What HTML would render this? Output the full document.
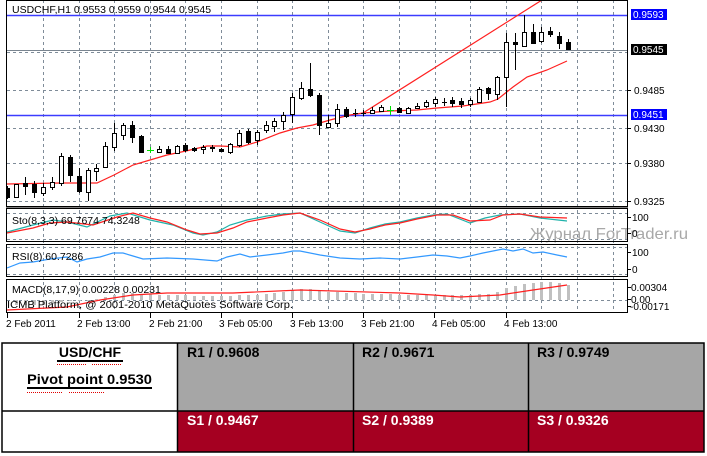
<!DOCTYPE html>
<html><head><meta charset="utf-8"><style>
html,body{margin:0;padding:0;background:#fff;}
svg{display:block;font-family:"Liberation Sans",Arial,sans-serif;}
</style></head><body>
<svg width="707" height="456" viewBox="0 0 707 456" xmlns="http://www.w3.org/2000/svg">
<defs>
<clipPath id="cm"><rect x="7" y="1" width="620" height="205"/></clipPath>
<clipPath id="cs"><rect x="7" y="209" width="620" height="32"/></clipPath>
<clipPath id="cr"><rect x="7" y="245" width="620" height="31"/></clipPath>
<clipPath id="cd"><rect x="7" y="280" width="620" height="32"/></clipPath>
</defs>
<rect width="707" height="456" fill="#fff"/>

<!-- grid verticals -->
<path d="M43.5 0V313M79.5 0V313M114.5 0V313M150.5 0V313M185.5 0V313M221.5 0V313M257.5 0V313M292.5 0V313M328.5 0V313M363.5 0V313M399.5 0V313M435.5 0V313M470.5 0V313M506.5 0V313M541.5 0V313M577.5 0V313M613.5 0V313" stroke="#7f8c99" stroke-dasharray="3,3" fill="none"/>
<!-- grid horizontals main -->
<path d="M7 15.5H627M7 52.5H627M7 90.5H627M7 128.5H627M7 163.5H627M7 201.5H627" stroke="#7f8c99" stroke-dasharray="3,3" fill="none"/>
<!-- indicator levels -->
<path d="M7 213.5H627M7 239.5H627M7 247.5H627M7 274.5H627M7 300.5H627" stroke="#7f8c99" stroke-dasharray="3,3" fill="none"/>

<!-- main chart -->
<g clip-path="url(#cm)">
<line x1="7" y1="15.5" x2="627" y2="15.5" stroke="#3c3cff" stroke-width="1.5"/>
<line x1="7" y1="115.5" x2="627" y2="115.5" stroke="#3c3cff" stroke-width="1.5"/>
<line x1="7" y1="50.5" x2="627" y2="50.5" stroke="#7a8590"/>
<polyline fill="none" stroke="#ff2020" stroke-width="1.2" points="6,184 60,183 97,183 114,175 133,165 150,160 167,155 186,151 207,146 220,146 240,147 257,142 280,133 297,128 313,125 330,120 350,115 363,113 390,111 417,110 437,108 463,106 490,102 498,99 513,87 527,77 547,70 567,61"/>
<line x1="363" y1="113" x2="542" y2="0" stroke="#ff2020" stroke-width="1.2"/>
<path fill="none" stroke="#000" d="M7.5 186V199M16.5 184V198M25.5 177V195M34.5 181V198M43.5 183V196M52.5 177V190M61.5 153V186M70.5 155V182M79.5 168V193M88.5 168V201M96.5 164V181M105.5 142V168M114.5 123V151M123.5 123V140M132.5 121V143M141.5 135V153M159.5 146V152M168.5 146V153M177.5 145V153M185.5 143V152M194.5 147V152M203.5 145V154M212.5 145V152M221.5 148V152M230.5 143V154M239.5 130V147M248.5 129V144M257.5 130V145M266.5 121V133M274.5 118V132M283.5 112V130M292.5 93V123M301.5 82V100M310.5 63V97M319.5 93V135M328.5 115V127M337.5 104V127M346.5 107V118M355.5 109V117M363.5 110V116M372.5 107V114M381.5 105V112M399.5 107V113M408.5 107V114M417.5 103V109M426.5 100V108M435.5 97V107M444.5 98V106M452.5 97V107M461.5 98V108M470.5 98V107M479.5 87V103M488.5 87V100M497.5 76V100M506.5 33V107M515.5 33V70M524.5 15V47M533.5 24V44M541.5 27V43M550.5 27V37M559.5 32V49M568.5 39V50M353 113.5H358M361 113.5H366M442 102.5H447"/>
<g fill="#fff" stroke="#000">
<rect x="14.5" y="184.5" width="4" height="13"/><rect x="41.5" y="187.5" width="4" height="6"/><rect x="50.5" y="182.5" width="4" height="5"/><rect x="59.5" y="156.5" width="4" height="27"/><rect x="86.5" y="170.5" width="4" height="22"/><rect x="94.5" y="168.5" width="4" height="3"/><rect x="103.5" y="146.5" width="4" height="21"/><rect x="112.5" y="133.5" width="4" height="14"/><rect x="121.5" y="125.5" width="4" height="10"/><rect x="157.5" y="149.5" width="4" height="3"/><rect x="175.5" y="146.5" width="4" height="7"/><rect x="201.5" y="147.5" width="4" height="2"/><rect x="228.5" y="144.5" width="4" height="8"/><rect x="237.5" y="133.5" width="4" height="12"/><rect x="255.5" y="132.5" width="4" height="8"/><rect x="264.5" y="125.5" width="4" height="5"/><rect x="272.5" y="121.5" width="4" height="5"/><rect x="281.5" y="115.5" width="4" height="6"/><rect x="290.5" y="97.5" width="4" height="17"/><rect x="299.5" y="88.5" width="4" height="10"/><rect x="326.5" y="123.5" width="4" height="4"/><rect x="335.5" y="109.5" width="4" height="14"/><rect x="370.5" y="110.5" width="4" height="3"/><rect x="379.5" y="107.5" width="4" height="4"/><rect x="406.5" y="108.5" width="4" height="5"/><rect x="415.5" y="106.5" width="4" height="2"/><rect x="424.5" y="102.5" width="4" height="4"/><rect x="433.5" y="99.5" width="4" height="4"/><rect x="468.5" y="100.5" width="4" height="4"/><rect x="477.5" y="89.5" width="4" height="13"/><rect x="495.5" y="77.5" width="4" height="17"/><rect x="504.5" y="42.5" width="4" height="35"/><rect x="522.5" y="32.5" width="4" height="14"/><rect x="539.5" y="32.5" width="4" height="9"/>
</g>
<g fill="#000">
<rect x="5" y="188" width="5" height="10"/><rect x="23" y="183" width="5" height="4"/><rect x="32" y="184" width="5" height="9"/><rect x="68" y="157" width="5" height="19"/><rect x="77" y="176" width="5" height="16"/><rect x="130" y="125" width="5" height="13"/><rect x="139" y="136" width="5" height="17"/><rect x="166" y="149" width="5" height="5"/><rect x="183" y="145" width="5" height="6"/><rect x="192" y="148" width="5" height="3"/><rect x="210" y="147" width="5" height="2"/><rect x="219" y="149" width="5" height="3"/><rect x="246" y="131" width="5" height="12"/><rect x="308" y="89" width="5" height="7"/><rect x="317" y="95" width="5" height="31"/><rect x="344" y="109" width="5" height="8"/><rect x="397" y="108" width="5" height="5"/><rect x="450" y="100" width="5" height="4"/><rect x="459" y="101" width="5" height="4"/><rect x="486" y="88" width="5" height="6"/><rect x="513" y="42" width="5" height="3"/><rect x="531" y="32" width="5" height="12"/><rect x="548" y="31" width="5" height="4"/><rect x="557" y="36" width="5" height="8"/><rect x="566" y="42" width="5" height="8"/>
</g>
<path fill="none" stroke="#00e000" d="M150.5 147V153M147 150.5H154M390.5 106V115M387 110.5H394"/>
</g>
<text x="12" y="13" font-size="10.5" fill="#000">USDCHF,H1  0.9553 0.9559 0.9544 0.9545</text>

<!-- stochastic -->
<g clip-path="url(#cs)" fill="none" stroke-width="1.2">
<polyline stroke="#20b2aa" points="7,232 33,225 53,220 67,222 87,227 110,216 127,213 150,220 173,225 193,233 203,235 217,232 230,225 247,220 267,216 283,214 300,213 320,222 340,231 355,233 370,228 385,224 400,222 417,218 433,215 447,214 470,223 485,218 500,215 520,214 540,218 567,221"/>
<polyline stroke="#ff2020" points="7,233 33,228 50,223 67,222 93,225 117,217 133,213 150,218 167,222 187,230 200,234 217,233 233,228 247,222 267,218 283,215 300,213 320,220 340,229 355,232 370,229 385,225 400,223 417,219 437,215 453,215 470,221 490,220 503,215 520,214 540,217 567,218"/>
</g>
<text x="12" y="224" font-size="10.5" fill="#000">Sto(8,3,3) 69.7674 74.3248</text>

<!-- RSI -->
<g clip-path="url(#cr)" fill="none">
<polyline stroke="#3399ff" stroke-width="1.2" points="7,268 20,263 33,262 50,259 67,257 77,262 87,259 100,257 113,253 123,253 133,256 143,259 167,258 193,259 217,261 227,257 240,254 250,257 267,255 283,253 293,251 300,251 320,255 340,258 360,259 380,258 400,259 417,257 433,255 447,256 460,258 470,256 483,253 503,249 513,251 523,249 533,253 543,252 557,255 567,257"/>
</g>
<text x="12" y="260" font-size="10.5" fill="#000">RSI(8) 60.7286</text>

<!-- MACD -->
<g clip-path="url(#cd)">
<path fill="#c0c0c0" d="M15 300h3V305h-3zM24 300h3V305h-3zM33 300h3V305h-3zM42 300h3V305h-3zM51 300h3V304h-3zM60 300h3V302h-3zM69 300h3V301h-3zM78 300h3V301h-3zM87 300h3V301h-3zM95 299h3V300h-3zM104 297h3V300h-3zM113 295h3V300h-3zM122 293h3V300h-3zM131 293h3V300h-3zM140 294h3V300h-3zM149 294h3V300h-3zM158 295h3V300h-3zM167 295h3V300h-3zM176 295h3V300h-3zM184 295h3V300h-3zM193 296h3V300h-3zM202 296h3V300h-3zM211 296h3V300h-3zM220 296h3V300h-3zM229 296h3V300h-3zM238 295h3V300h-3zM247 295h3V300h-3zM256 295h3V300h-3zM265 294h3V300h-3zM273 293h3V300h-3zM282 292h3V300h-3zM291 290h3V300h-3zM300 289h3V300h-3zM309 289h3V300h-3zM318 291h3V300h-3zM327 292h3V300h-3zM336 292h3V300h-3zM345 293h3V300h-3zM354 293h3V300h-3zM362 294h3V300h-3zM371 294h3V300h-3zM380 294h3V300h-3zM389 294h3V300h-3zM398 295h3V300h-3zM407 295h3V300h-3zM416 295h3V300h-3zM425 295h3V300h-3zM434 295h3V300h-3zM443 295h3V300h-3zM451 295h3V300h-3zM460 295h3V300h-3zM469 295h3V300h-3zM478 294h3V300h-3zM487 294h3V300h-3zM496 292h3V300h-3zM505 288h3V300h-3zM514 286h3V300h-3zM523 284h3V300h-3zM532 283h3V300h-3zM540 282h3V300h-3zM549 282h3V300h-3zM558 283h3V300h-3zM567 285h3V300h-3z"/>
<polyline fill="none" stroke="#ff2020" stroke-width="1.2" points="7,310 67,307 100,300 133,295 167,293 233,293 300,290 400,293 433,295 460,297 500,295 533,290 567,285"/>
</g>
<text x="12" y="293" font-size="10.5" fill="#000">MACD(8,17,9) 0.00228 0.00231</text>
<text x="7" y="308" font-size="10.5" fill="#000" textLength="286" lengthAdjust="spacingAndGlyphs">ICMB Platform, @ 2001-2010 MetaQuotes Software Corp.</text>

<!-- watermark -->
<text x="530" y="239" font-size="16" fill="#a8a8a8" textLength="158" lengthAdjust="spacingAndGlyphs">Журнал ForTrader.ru</text>

<!-- frames -->
<g fill="none" stroke="#000">
<rect x="6.5" y="0.5" width="621" height="206"/>
<rect x="6.5" y="208.5" width="621" height="33"/>
<rect x="6.5" y="244.5" width="621" height="32"/>
<rect x="6.5" y="279.5" width="621" height="33"/>
</g>
<line x1="6" y1="207.5" x2="628" y2="207.5" stroke="#808080"/>

<!-- right axis ticks -->
<path stroke="#000" d="M627 90.5H631M627 128.5H631M627 163.5H631M627 201.5H631M627 217.5H631M627 233.5H631M627 252.5H631M627 269.5H631M627 287.5H631M627 299.5H631M627 306.5H631"/>
<g font-size="10" fill="#000">
<text x="634" y="94">0.9485</text>
<text x="634" y="132">0.9430</text>
<text x="634" y="167">0.9380</text>
<text x="634" y="205">0.9325</text>
<text x="632" y="221">100</text>
<text x="632" y="237">0</text>
<text x="632" y="256">100</text>
<text x="632" y="273">0</text>
<text x="631" y="291">0.00304</text>
<text x="631" y="303">0.00</text>
<text x="630" y="310">-0.00171</text>
</g>
<rect x="631" y="9" width="36" height="11" fill="#0000ff"/>
<text x="633" y="18" font-size="10" fill="#fff">0.9593</text>
<rect x="631" y="44" width="36" height="11" fill="#000"/>
<text x="633" y="53" font-size="10" fill="#fff">0.9545</text>
<rect x="631" y="109" width="36" height="11" fill="#0000ff"/>
<text x="633" y="118" font-size="10" fill="#fff">0.9451</text>

<!-- x axis -->
<path stroke="#000" d="M7.5 313V318M79.5 313V318M150.5 313V318M221.5 313V318M292.5 313V318M363.5 313V318M434.5 313V318M506.5 313V318"/>
<g font-size="10" fill="#000">
<text x="6" y="327">2 Feb 2011</text>
<text x="77" y="327">2 Feb 13:00</text>
<text x="149" y="327">2 Feb 21:00</text>
<text x="219" y="327">3 Feb 05:00</text>
<text x="290" y="327">3 Feb 13:00</text>
<text x="361" y="327">3 Feb 21:00</text>
<text x="432" y="327">4 Feb 05:00</text>
<text x="504" y="327">4 Feb 13:00</text>
</g>

<!-- table -->
<rect x="2" y="343" width="175" height="68" fill="#fff"/>
<rect x="177" y="343" width="527" height="68" fill="#a6a6a6"/>
<rect x="2" y="411" width="175" height="41" fill="#fff"/>
<rect x="177" y="411" width="527" height="41" fill="#a50021"/>
<g stroke="#000" stroke-width="1.5" fill="none">
<rect x="2" y="343" width="702" height="109"/>
<line x1="2" y1="411" x2="704" y2="411"/>
<line x1="177.5" y1="343" x2="177.5" y2="452"/>
<line x1="353.5" y1="343" x2="353.5" y2="452"/>
<line x1="528.5" y1="343" x2="528.5" y2="452"/>
</g>
<g font-size="14" font-weight="bold" fill="#000">
<text x="90" y="357" text-anchor="middle">USD/CHF</text>
<text x="89.5" y="384" text-anchor="middle" textLength="125" lengthAdjust="spacingAndGlyphs">Pivot point 0.9530</text>
<text x="187" y="357">R1 / 0.9608</text>
<text x="362" y="357">R2 / 0.9671</text>
<text x="537" y="357">R3 / 0.9749</text>
</g>
<g font-size="14" font-weight="bold" fill="#fff">
<text x="187" y="425">S1 / 0.9467</text>
<text x="362" y="425">S2 / 0.9389</text>
<text x="537" y="425">S3 / 0.9326</text>
</g>
<path stroke="#000" stroke-width="2" d="M57 361H123M27 388H152"/>
<path stroke="#e00000" stroke-width="1" stroke-dasharray="1,1" d="M57 364.5H87M92 364.5H122M27 392.5H63M69 392.5H104"/>
</svg>
</body></html>
